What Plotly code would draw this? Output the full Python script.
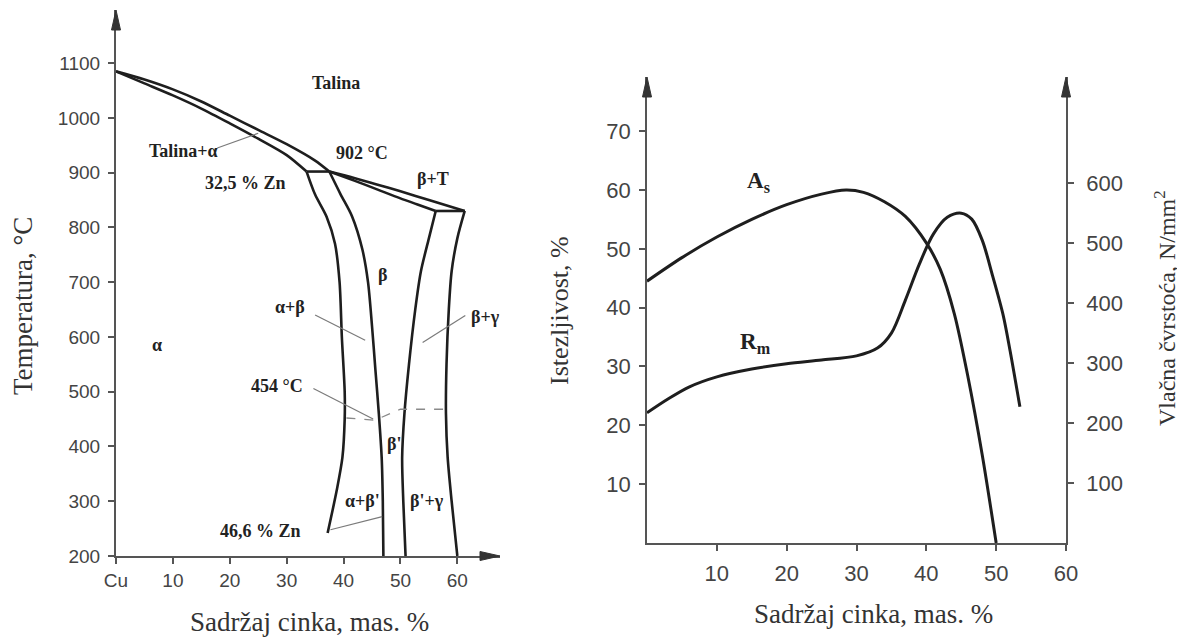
import plotly.graph_objects as go

# ---------------- Left chart: Cu-Zn phase diagram ----------------
liq_x = [0, 5, 10, 15, 20, 25, 30, 35, 37.5]
liq_t = [1085, 1070, 1052, 1030, 1004, 978, 952, 922, 902]
sol_x = [0, 5, 10, 15, 20, 25, 30, 33.5]
sol_t = [1085, 1063, 1041, 1017, 990, 962, 932, 902]
tie902_x = [33.5, 37.5]
tie902_t = [902, 902]
alpha_x = [33.5, 35, 37, 38.5, 39.3, 39.7, 40.2, 40.2, 39.8, 38.8, 37.2]
alpha_t = [902, 860, 820, 770, 700, 600, 500, 450, 380, 320, 242]
beta_l_x = [37.5, 39.5, 41.5, 43.3, 44.3, 45.0, 45.6, 46.2, 46.7, 46.9, 47.0]
beta_l_t = [902, 860, 820, 760, 700, 620, 540, 460, 380, 300, 200]
beta_r_x = [56.2, 55.0, 53.6, 52.6, 51.5, 50.7, 50.3, 50.5, 50.9]
beta_r_t = [830, 780, 720, 650, 550, 460, 380, 300, 200]
gamma_x = [61.3, 60.0, 59.0, 58.5, 58.1, 58.0, 58.3, 59.0, 60.0]
gamma_t = [830, 780, 720, 650, 550, 460, 380, 300, 200]
liq2_x = [37.5, 42, 46, 50, 55, 61.3]
liq2_t = [902, 890, 878, 866, 850, 830]
sol2_x = [37.5, 42, 46, 50, 53, 56.2]
sol2_t = [902, 885, 869, 853, 842, 830]
tie830_x = [56.2, 61.3]
tie830_t = [830, 830]
order_x = [40.5, 45.5, 50.0, 58.2]
order_t = [452, 448, 468, 468]

left_xticks = [0, 10, 20, 30, 40, 50, 60]
left_xtext = ["Cu", "10", "20", "30", "40", "50", "60"]
left_yticks = [200, 300, 400, 500, 600, 700, 800, 900, 1000, 1100]

# labels: (text, x, T)
left_labels = [
    ("Talina", 38.6, 1063),
    ("Talina+α", 11.8, 940),
    ("902 °C", 43.3, 936),
    ("32,5 % Zn", 22.7, 882),
    ("β+T", 55.8, 888),
    ("β", 46.8, 714),
    ("α+β", 30.6, 654),
    ("β+γ", 65.0, 636),
    ("α", 7.2, 585),
    ("454 °C", 28.3, 510),
    ("β'", 48.8, 405),
    ("α+β'", 43.3, 300),
    ("β'+γ", 54.7, 300),
    ("46,6 % Zn", 25.4, 245),
]
# leader lines: ((x0, T0), (x1, T1))
leaders = [
    ((17.8, 945), (25.0, 972)),
    ((35.0, 640), (43.8, 594)),
    ((61.4, 639), (53.9, 590)),
    ((34.7, 506), (45.2, 450)),
    ((37.7, 248), (46.8, 272)),
]

# ---------------- Right chart: properties ----------------
zn_as = [0, 5, 10, 15, 20, 25, 28.5, 31, 34, 37, 40, 42, 44, 46, 48, 50]
as_vals = [44.5, 48.5, 52, 55, 57.5, 59.3, 60, 59.6, 58, 55.5, 51, 46.5, 39, 28, 15, 0]
zn_rm = [0, 3, 6, 10, 15, 20, 25, 30, 33, 35, 37, 39, 41, 43, 45, 46.5, 48, 49.5, 51, 52, 53.4]
rm_vals = [217, 240, 260, 277, 290, 299, 305, 312, 325, 350, 405, 465, 515, 543, 550, 540,
           505, 445, 380, 320, 227]
right_xticks = [10, 20, 30, 40, 50, 60]
right_yticks = [10, 20, 30, 40, 50, 60, 70]
right_y2ticks = [100, 200, 300, 400, 500, 600]

LINE = "#1e1e1e"
AXC = "#555555"
TICKC = "#444444"
SERIF = "Liberation Serif"
SANS = "Liberation Sans"

LTOP = 1197
RTOP = 79.2
RTOP2 = 777

# page is rendered with an 8px body margin
OFF = 8
W, H = 1185 - OFF, 639 - OFF


def fx(px):
    return (px - OFF) / W


def fy(py):
    return 1 - (py - OFF) / H


fig = go.Figure()


def boundary(xs, ts, spline=True, width=2.6):
    fig.add_trace(go.Scatter(
        x=xs, y=ts, mode="lines", xaxis="x", yaxis="y",
        line=dict(color=LINE, width=width, shape="spline" if spline else "linear",
                  smoothing=0.8),
        hoverinfo="skip", showlegend=False))


boundary(liq_x, liq_t)
boundary(sol_x, sol_t)
boundary(tie902_x, tie902_t, spline=False)
boundary(alpha_x, alpha_t)
boundary(beta_l_x, beta_l_t)
boundary(beta_r_x, beta_r_t)
boundary(gamma_x, gamma_t)
boundary(liq2_x, liq2_t)
boundary(sol2_x, sol2_t)
boundary(tie830_x, tie830_t, spline=False)

fig.add_trace(go.Scatter(
    x=order_x, y=order_t, mode="lines", xaxis="x", yaxis="y",
    line=dict(color="#8a8a8a", width=1.3, dash="dash"),
    hoverinfo="skip", showlegend=False))

for (p0, p1) in leaders:
    fig.add_trace(go.Scatter(
        x=[p0[0], p1[0]], y=[p0[1], p1[1]], mode="lines", xaxis="x", yaxis="y",
        line=dict(color="#7a7a7a", width=1.2),
        hoverinfo="skip", showlegend=False))

fig.add_trace(go.Scatter(
    x=zn_as, y=as_vals, mode="lines", xaxis="x2", yaxis="y2",
    line=dict(color=LINE, width=3, shape="spline", smoothing=0.9),
    hoverinfo="skip", showlegend=False))
fig.add_trace(go.Scatter(
    x=zn_rm, y=rm_vals, mode="lines", xaxis="x2", yaxis="y3",
    line=dict(color=LINE, width=3, shape="spline", smoothing=0.9),
    hoverinfo="skip", showlegend=False))

annotations = []
for txt, x, t in left_labels:
    annotations.append(dict(
        x=x, y=t, xref="x", yref="y", text="<b>%s</b>" % txt, showarrow=False,
        xanchor="center", yanchor="middle",
        font=dict(family=SERIF, size=18, color="#222222")))

annotations += [
    dict(x=15.9, y=61.3, xref="x2", yref="y2", text="<b>A<sub>s</sub></b>", showarrow=False,
         xanchor="center", yanchor="middle",
         font=dict(family=SERIF, size=23, color="#222222")),
    dict(x=15.5, y=34.0, xref="x2", yref="y2", text="<b>R<sub>m</sub></b>", showarrow=False,
         xanchor="center", yanchor="middle",
         font=dict(family=SERIF, size=23, color="#222222")),
]

# axis titles
title_font = dict(family=SERIF, color="#333333")
annotations += [
    dict(x=fx(23), y=fy(306), xref="paper", yref="paper", text="Temperatura, °C",
         textangle=-90, showarrow=False, xanchor="center", yanchor="middle",
         font=dict(size=27, **title_font)),
    dict(x=fx(309), y=fy(622), xref="paper", yref="paper",
         text="Sadržaj cinka, mas. %", showarrow=False, xanchor="center", yanchor="middle",
         font=dict(size=27, **title_font)),
    dict(x=fx(559), y=fy(311), xref="paper", yref="paper", text="Istezljivost, %",
         textangle=-90, showarrow=False, xanchor="center", yanchor="middle",
         font=dict(size=26, **title_font)),
    dict(x=fx(1165), y=fy(308), xref="paper", yref="paper",
         text="Vlačna čvrstoća, N/mm<sup>2</sup>", textangle=-90, showarrow=False,
         xanchor="center", yanchor="middle", font=dict(size=24, **title_font)),
    dict(x=fx(873), y=fy(614), xref="paper", yref="paper",
         text="Sadržaj cinka, mas. %", showarrow=False, xanchor="center", yanchor="middle",
         font=dict(size=27, **title_font)),
]


# axis arrowheads as pixel-sized shapes anchored at the axis ends (paper refs: unclipped)
def arrow_up(px, py):
    return dict(type="path", xref="paper", yref="paper", xsizemode="pixel", ysizemode="pixel",
                xanchor=fx(px), yanchor=fy(py), path="M -4.5 -20 L 0 0 L 4.5 -20 Z",
                fillcolor="#333333", line=dict(color="#333333", width=1))


def arrow_right(px, py):
    return dict(type="path", xref="paper", yref="paper", xsizemode="pixel", ysizemode="pixel",
                xanchor=fx(px), yanchor=fy(py), path="M -20 -4.5 L 0 0 L -20 4.5 Z",
                fillcolor="#333333", line=dict(color="#333333", width=1))


L_X0, L_X1, L_Y0, L_Y1 = 116, 500, 556, 10
R_X0, R_X1, R_Y0, R_Y1 = 647, 1066, 543, 77

shapes = [
    arrow_up(L_X0, L_Y1),
    arrow_right(L_X1, L_Y0),
    arrow_up(R_X0, R_Y1),
    arrow_up(R_X1, R_Y1),
]

common = dict(showgrid=False, zeroline=False, showline=True, linecolor=AXC,
              ticks="outside", ticklen=6, tickcolor=AXC, tickwidth=2, automargin=False)

fig.update_layout(
    width=W, height=H,
    margin=dict(l=0, r=0, t=0, b=0, autoexpand=False),
    paper_bgcolor="white", plot_bgcolor="white",
    showlegend=False,
    xaxis=dict(domain=[fx(L_X0), fx(L_X1)], range=[0, 67.5], anchor="y",
               tickvals=left_xticks, ticktext=left_xtext, linewidth=2.2,
               tickfont=dict(family=SANS, size=19, color=TICKC), **common),
    yaxis=dict(domain=[fy(L_Y0), fy(L_Y1)], range=[200, LTOP], anchor="x",
               tickvals=left_yticks, linewidth=2.2, ticklabelstandoff=4,
               tickfont=dict(family=SANS, size=19, color=TICKC), **common),
    xaxis2=dict(domain=[fx(R_X0), fx(R_X1)], range=[0, 60], anchor="y2",
                tickvals=right_xticks, linewidth=1.6, ticklabelstandoff=4,
                tickfont=dict(family=SANS, size=22, color=TICKC), **common),
    yaxis2=dict(domain=[fy(R_Y0), fy(R_Y1)], range=[0, RTOP], anchor="x2",
                tickvals=right_yticks, linewidth=1.6, ticklabelstandoff=4,
                tickfont=dict(family=SANS, size=22, color=TICKC), **common),
    yaxis3=dict(range=[0, RTOP2], overlaying="y2", side="right", anchor="x2",
                tickvals=right_y2ticks, linewidth=1.6, ticklabelstandoff=8,
                tickfont=dict(family=SANS, size=22, color=TICKC), **common),
    annotations=annotations,
    shapes=shapes,
)

fig.write_html("out.html")
